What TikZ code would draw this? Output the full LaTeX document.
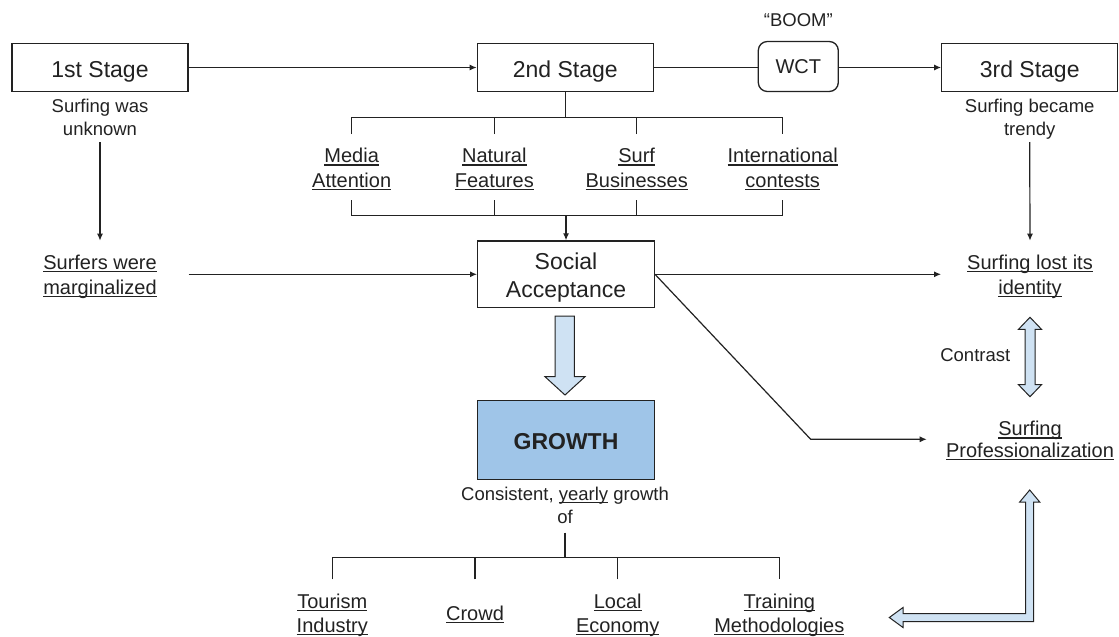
\documentclass[tikz,border=0pt]{standalone}
\usepackage{fontspec}
\setmainfont{Liberation Sans}
\usetikzlibrary{arrows.meta}
\definecolor{ink}{HTML}{222222}
\definecolor{paleblue}{HTML}{CFE2F3}
\definecolor{midblue}{HTML}{9FC5E8}
% underline that sits just below the baseline and crosses descenders
\newcommand\ulw[1]{\setbox0=\hbox{#1}\rlap{\rule[-0.15em]{\wd0}{0.065em}}\box0\relax}
\tikzset{
  every node/.style={text=ink},
  box/.style={draw=ink, line width=1.3pt, minimum width=176pt, minimum height=48.5pt, inner sep=0pt},
  txt/.style={inner sep=0pt, anchor=base},
  title/.style={txt, font=\fontsize{23}{27}\selectfont},
  lab/.style={txt, font=\fontsize{20}{24}\selectfont},
  note/.style={txt, font=\fontsize{18.5}{22}\selectfont},
  ln/.style={draw=ink, line width=1.2pt},
  arr/.style={ln, -{Latex[length=7pt,width=6pt]}},
  block/.style={draw=ink, line width=1pt, fill=paleblue, line join=miter},
}
\begin{document}
\begin{tikzpicture}[x=1pt,y=-1pt]
\useasboundingbox (0,0) rectangle (1119,637);
\fill[white] (0,0) rectangle (1119,637);

% ---- stages along the top ----
\node[box] (s1) at (100,67.5) {};
\node[title] (t1) at (100,77.3) {1st Stage};
\node[box] (s2) at (565.3,67.5) {};
\node[title] (t2) at (565.3,77.3) {2nd Stage};
\node[box] (s3) at (1029.7,67.5) {};
\node[title] (t3) at (1029.7,77.3) {3rd Stage};
\node[box, rounded corners=9pt, minimum width=80pt, minimum height=50pt] (wct) at (798.3,66.5) {};
\node[lab] (wctt) at (798.3,73.3) {WCT};
\node[note] (boom) at (798.3,26) {“BOOM”};

\node[note] (d1a) at (100,112.3) {Surfing was};
\node[note] (d1b) at (100,135) {unknown};
\node[note] (d3a) at (1029.7,112.3) {Surfing became};
\node[note] (d3b) at (1029.7,135) {trendy};

% ---- factors of the second stage ----
\node[lab] (f1a) at (351.7,162.5) {\ulw{Media}};
\node[lab] (f1b) at (351.7,187) {\ulw{Attention}};
\node[lab] (f2a) at (494.3,162.5) {\ulw{Natural}};
\node[lab] (f2b) at (494.3,187) {\ulw{Features}};
\node[lab] (f3a) at (636.7,162.5) {\ulw{Surf}};
\node[lab] (f3b) at (636.7,187) {\ulw{Businesses}};
\node[lab] (f4a) at (782.7,162.5) {\ulw{International}};
\node[lab] (f4b) at (782.7,187) {\ulw{contests}};

% ---- middle row ----
\node[lab] (m1a) at (100,269) {\ulw{Surfers were}};
\node[lab] (m1b) at (100,294) {\ulw{marginalized}};
\node[box, minimum width=176.7pt, minimum height=66.7pt] (soc) at (566,274.3) {};
\node[title] (soca) at (566,269) {Social};
\node[title] (socb) at (566,297.3) {Acceptance};
\node[lab] (id1a) at (1030,269) {\ulw{Surfing lost its}};
\node[lab] (id1b) at (1030,294) {\ulw{identity}};
\node[note] (ctr) at (975.3,361) {Contrast};
\node[lab] (pr1a) at (1030,435.7) {\ulw{Surfing}};
\node[lab] (pr1b) at (1030,457) {\ulw{Professionalization}};

% ---- growth ----
\node[box, fill=midblue, minimum width=176.7pt, minimum height=78.6pt] (gro) at (566,440) {};
\node[txt, font=\fontsize{23}{27}\selectfont\bfseries] (grot) at (566,449) {GROWTH};
\node[note] (cg1) at (565,500.7) {Consistent, \ulw{yearly} growth};
\node[note] (cg2) at (565,523.3) {of};
\node[lab] (g1a) at (332.3,608.3) {\ulw{Tourism}};
\node[lab] (g1b) at (332.3,632.3) {\ulw{Industry}};
\node[lab] (g2) at (475,620) {\ulw{Crowd}};
\node[lab] (g3a) at (617.7,608.3) {\ulw{Local}};
\node[lab] (g3b) at (617.7,632.3) {\ulw{Economy}};
\node[lab] (g4a) at (779.3,608.3) {\ulw{Training}};
\node[lab] (g4b) at (779.3,632.3) {\ulw{Methodologies}};

% junction heights of the brackets
\coordinate (tb) at (0,117.3);
\coordinate (tt) at (0,134);
\coordinate (lt) at (0,200);
\coordinate (lb) at (0,215.7);
\coordinate (gb) at (0,557.7);
\coordinate (gt) at (0,579.3);
\coordinate (bend) at (810.7,439.3);
\coordinate (pe) at (926.7,439.3);

% ---- connectors ----
\draw[arr] (s1.east) -- (s2.west);
\draw[ln] (s2.east) -- (s2.east -| wct.west);
\draw[arr] (s3.west -| wct.east) -- (s3.west);

\draw[ln] (s2.south) -- (s2.south |- tb);
\draw[ln] (f1a |- tt) -- (f1a |- tb) -- (f4a |- tb) -- (f4a |- tt);
\draw[ln] (f2a |- tt) -- (f2a |- tb);
\draw[ln] (f3a |- tt) -- (f3a |- tb);
\draw[ln] (f1b |- lt) -- (f1b |- lb) -- (f4b |- lb) -- (f4b |- lt);
\draw[ln] (f2b |- lt) -- (f2b |- lb);
\draw[ln] (f3b |- lt) -- (f3b |- lb);
\draw[arr] (soc.north |- lb) -- (soc.north);

\draw[arr] ([yshift=-7pt]d1b.base) -- ([yshift=28.3pt]m1a.base);
\draw[arr] ([yshift=-7pt]d3b.base) -- ([yshift=28.3pt]id1a.base);
\draw[arr] (soc.west -| s1.east) -- (soc.west);
\draw[arr] (soc.east) -- (soc.east -| s3.west);
\draw[arr] (soc.east) -- (bend) -- (pe);

\draw[ln] ([yshift=-9.4pt]cg2.base) -- (cg2.base |- gb);
\draw[ln] (g1a |- gt) -- (g1a |- gb) -- (g4a |- gb) -- (g4a |- gt);
\draw[ln] (g2 |- gt) -- (g2 |- gb);
\draw[ln] (g3a |- gt) -- (g3a |- gb);

% ---- block arrows ----
\draw[block] (555,316) -- (574.3,316) -- (574.3,376.7) -- (585,376.7) -- (565,395)
  -- (545,376.7) -- (555,376.7) -- cycle;
\draw[block] (1030,317.3) -- (1041.5,329.3) -- (1035,329.3) -- (1035,384.7) -- (1041.5,384.7)
  -- (1030,396.7) -- (1018.5,384.7) -- (1025,384.7) -- (1025,329.3) -- (1018.5,329.3) -- cycle;
\draw[block] (1029.7,490) -- (1039.7,502) -- (1033.7,502) -- (1033.7,621.5) -- (903,621.5)
  -- (903,627.5) -- (889.3,617.5) -- (903,607.5) -- (903,613.5) -- (1025.7,613.5)
  -- (1025.7,502) -- (1019.7,502) -- cycle;
\end{tikzpicture}
\end{document}
